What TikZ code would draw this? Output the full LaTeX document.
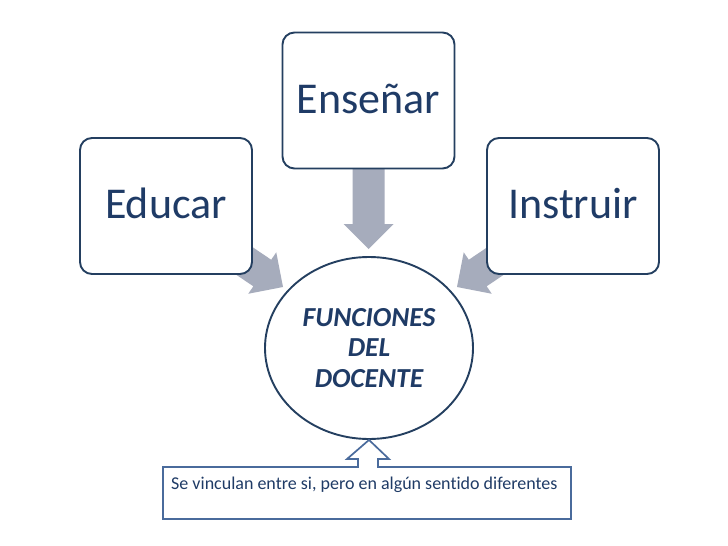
\documentclass[tikz,border=0pt]{standalone}
\usepackage{fontspec}
\setmainfont[RawFeature=-liga]{Carlito}
\usetikzlibrary{shapes.geometric}
\definecolor{txtblue}{HTML}{1F3B66}
\definecolor{navyline}{HTML}{243F60}
\definecolor{calloutline}{HTML}{4A6B9C}
\definecolor{arrowgray}{HTML}{A6ACBC}
\tikzset{
  box/.style={draw=navyline, line width=1.9pt, fill=white, rounded corners=12pt,
    minimum width=172, minimum height=136, inner sep=0pt,
    text=txtblue, font=\fontsize{44}{46}\selectfont, text height=25pt, text depth=0pt},
  center/.style={draw=navyline, line width=1.9pt, fill=white, ellipse, inner sep=0pt,
    minimum width=208, minimum height=182, align=center, text=txtblue,
    font=\fontsize{27.5}{30.5}\selectfont\bfseries\itshape},
  pics/blockarr/.style={code={
    \fill[arrowgray] (0,0) -- (-25,25) -- (-25,16) -- (-#1,16) -- (-#1,-16)
      -- (-25,-16) -- (-25,-25) -- cycle;}},
}
\begin{document}
\begin{tikzpicture}[x=1pt,y=-1pt]
\useasboundingbox[fill=white] (0,0) rectangle (728,546);
% block arrows (drawn below the boxes)
\pic[rotate=-90] at (368.5,249) {blockarr=100};
\pic[rotate=-34] at (283,287) {blockarr=62};
\pic[rotate=-146] at (457,287) {blockarr=62};
% boxes
\node[box] (ens) at (368.5,100.5) {Enseñar};
\node[box] (edu) at (166,206) {Educar};
\node[box] (ins) at (573,206) {Instruir};
% centre ellipse
\node[center] (fun) at (369,348) {FUNCIONES\\DEL\\DOCENTE};
% callout
\coordinate (tip) at (fun.south);
\draw[calloutline, line width=1.7pt, fill=white, line join=miter]
  (163,467) -- (358,467) -- (358,459) -- (347,459) -- (tip)
  -- (389,459) -- (378,459) -- (378,467) -- (571,467) -- (571,519)
  -- (163,519) -- cycle;
\node[anchor=base west, inner sep=0pt, text=txtblue,
  font=\fontsize{18}{21}\selectfont] (note) at (171,489)
  {Se vinculan entre si, pero en algún sentido diferentes};
\end{tikzpicture}
\end{document}
